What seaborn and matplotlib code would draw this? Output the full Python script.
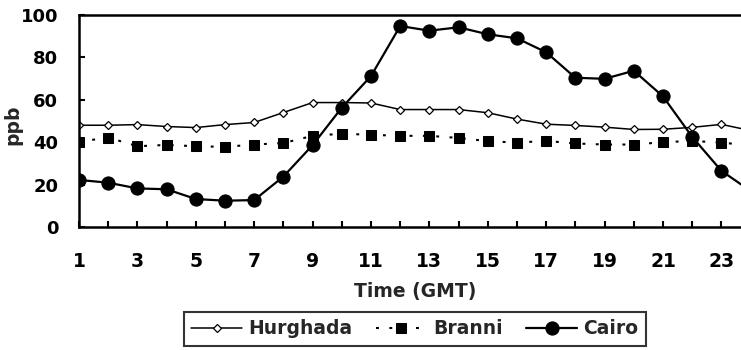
import numpy as np
import pandas as pd
import matplotlib
matplotlib.use("Agg")
import matplotlib.pyplot as plt
import seaborn as sns

hours = list(range(1, 25))
hurghada = [48, 48, 48.3, 47.4, 46.9, 48.3, 49.3, 54, 58.7, 58.7, 58.5, 55.4,
            55.4, 55.4, 53.9, 50.9, 48.5, 47.9, 47.1, 46.0, 46.1, 47.0, 48.4, 45.5]
branni = [40.2, 42.2, 38.1, 38.7, 38.1, 37.8, 38.9, 39.6, 43.0, 44.0, 43.5, 43.0,
          43.0, 42.0, 40.5, 39.8, 40.6, 39.4, 38.9, 38.9, 40.0, 40.6, 39.8, 38.5]
cairo = [22.2, 20.9, 18.2, 17.8, 13.2, 12.4, 12.7, 23.8, 38.6, 56.3, 71.2, 94.8,
         92.6, 94.2, 90.9, 89.0, 82.4, 70.4, 69.9, 73.7, 61.6, 42.5, 26.5, 17.0]
xtick_labels = [str(h) if h % 2 == 1 else "" for h in hours]
yticks = [0, 20, 40, 60, 80, 100]

sns.set_style("ticks")
plt.rcParams['font.family'] = ['DejaVu Sans']
plt.rcParams['font.weight'] = 'bold'

df = pd.DataFrame({"hour": hours, "Hurghada": hurghada, "Branni": branni, "Cairo": cairo})

fig = plt.figure(figsize=(7.41, 3.5), dpi=100)
W, H = 741, 350
x_left, x_right = 79, 750.6
y_top, y_bot = 15, 227
ax = fig.add_axes([x_left / W, (H - y_bot) / H, (x_right - x_left) / W, (y_bot - y_top) / H])

sns.lineplot(data=df, x="hour", y="Hurghada", ax=ax, color="black", linewidth=1.1,
             marker="D", markersize=4.5, markerfacecolor="white", markeredgecolor="black",
             markeredgewidth=0.9, label="Hurghada")
sns.lineplot(data=df, x="hour", y="Branni", ax=ax, color="black", linewidth=1.5,
             linestyle=(0, (1.4, 5.0)), marker="s", markersize=6.5,
             markerfacecolor="black", markeredgecolor="black", label="Branni")
sns.lineplot(data=df, x="hour", y="Cairo", ax=ax, color="black", linewidth=1.6,
             marker="o", markersize=9.5, markerfacecolor="black", markeredgecolor="black",
             label="Cairo")

ax.set_xlim(1, 24)
ax.set_ylim(0, 100)
ax.set_xticks(hours)
ax.set_xticklabels(xtick_labels)
ax.set_yticks(yticks)
ax.set_yticklabels([str(v) for v in yticks])

for s in ax.spines.values():
    s.set_linewidth(1.8)
    s.set_color("black")
ax.spines["right"].set_visible(False)

ax.tick_params(axis="x", direction="in", length=4, width=1.5, pad=18,
               labelsize=13.5, colors="black")
ax.tick_params(axis="y", direction="in", length=4, width=1.5, pad=15,
               labelsize=13, colors="black")
for lab in ax.get_xticklabels() + ax.get_yticklabels():
    lab.set_fontweight("bold")

ax.set_xlabel("Time (GMT)", fontsize=13.5, fontweight="bold", labelpad=8)
ax.set_ylabel("ppb", fontsize=13.5, fontweight="bold", va="center")
ax.yaxis.set_label_coords(-0.098, 0.48)

leg = ax.legend(loc="center", bbox_to_anchor=(415 / W, (H - 329) / H),
                bbox_transform=fig.transFigure, ncol=3, frameon=True, fancybox=False,
                edgecolor="black", handlelength=2.7, columnspacing=1.25,
                handletextpad=0.35, borderpad=0.4, borderaxespad=0,
                prop={"weight": "bold", "size": 13.5})
leg.get_frame().set_linewidth(1.5)

fig.savefig("out.png", dpi=100)
